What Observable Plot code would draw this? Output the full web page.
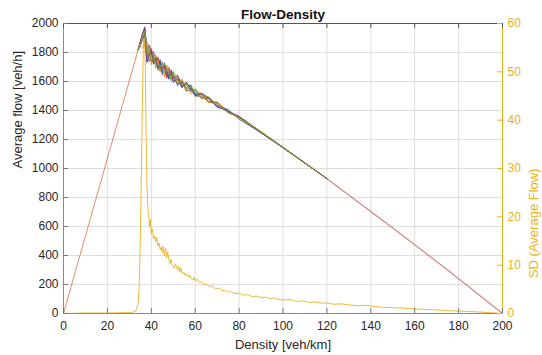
<!DOCTYPE html>
<html><head><meta charset="utf-8">
<script src="https://cdn.jsdelivr.net/npm/d3@7"></script>
<script src="https://cdn.jsdelivr.net/npm/@observablehq/plot@0.6"></script>
<style>body{margin:0;background:#fff} #chart svg{font-family:"Liberation Sans",Arial,sans-serif}</style>
</head><body><div id="chart"></div>
<script>
const chartTitle = "Flow-Density";
const xLabel = "Density [veh/km]";
const yLabel = "Average flow [veh/h]";
const y2Label = "SD (Average Flow)";
const xTicks = [0,20,40,60,80,100,120,140,160,180,200];
const yTicks = [0,200,400,600,800,1000,1200,1400,1600,1800,2000];
const y2Ticks = [0,10,20,30,40,50,60];
const lineColors = ["#0072BD","#D95319","#EDB120","#7E2F8E","#77AC30","#4DBEEE","#A2142F"];
const sdColor = "#EDB120";

// free-flow branch (shared by all runs)
const freeDensity = [0, 34];
const freeFlow = [0, 1819];
// peak region per run (densities 35,36,37)
const peakDensity = [35, 36, 37];
const peakFlows = [
  [1873, 1926, 1978],
  [1873, 1926, 1850],
  [1873, 1905, 1940],
  [1873, 1926, 1965],
  [1860, 1880, 1910],
  [1873, 1926, 1950],
  [1840, 1900, 1930],
  [1873, 1910, 1890],
  [1873, 1926, 1960],
  [1850, 1830, 1870],
  [1873, 1926, 1970],
  [1865, 1915, 1945]
];
// congested branch: centre values and per-run deviations
const congDensity = [38,39,40,41,42,43,44,45,46,47,48,49,50,52,54,56,58,60,63,66,70,75,80,90,100];
const congBase = [1775,1763,1751,1739,1727,1715,1703,1691,1679,1667,1655,1643,1631,1609,1587,1566,1545,1525,1500,1474,1440,1396,1350,1250,1145];
const congDev = [
  [60, 20, 55, -10, 35, -25, 40, -30, 15, 45, -20, 25, -40, 18, -28, 30, -12, 22, -15, 12, -18, 8, -7, 4, 2],
  [-20, 75, 10, 60, -35, 45, -10, 38, -45, 10, 38, -25, 15, -30, 22, -20, 28, -22, 14, -16, 10, -9, 6, -3, -2],
  [85, 35, 80, 15, 50, 0, -40, 25, 45, -32, 5, 42, -18, 28, -8, 15, -30, 8, 18, -10, 14, -11, 5, 3, 1],
  [30, -25, 45, 70, 5, 38, 15, -45, 10, 28, -40, 8, 35, -25, 16, -33, 8, -20, -8, 18, -6, 10, -8, -4, -1],
  [0, 45, -35, 30, 60, -40, 25, 45, -25, -8, 30, -32, 0, 38, -15, 8, 24, -30, 12, -18, 15, -7, 4, 5, 2],
  [95, 55, 15, 40, -25, 18, 50, 0, -30, 38, -8, -40, 22, -8, 30, -22, -16, 15, -20, 6, -12, 12, -4, -5, -2],
  [45, 90, 65, -20, 25, 55, -15, 15, 30, -45, 22, 15, -30, 8, -30, 22, 15, -8, 9, -14, 18, -4, 10, 2, 1],
  [-35, 10, 40, 45, 8, -18, 30, -25, 50, 0, -22, 30, 8, -38, 12, -8, 32, -15, 20, 15, -9, 6, -10, -2, -1],
  [15, 50, -15, 25, 40, 22, -30, 8, -15, 22, 45, -8, -22, 15, 8, -30, 0, 18, -12, 8, 5, -12, 3, 1, 0],
  [70, -10, 25, 55, -20, 30, 5, 20, -35, 40, 10, -15, 28, -20, 25, 12, -25, 28, 4, -20, 8, 11, -5, 3, 2],
  [-45, 30, 70, 0, 30, -30, 45, -5, 25, -20, -35, 35, -10, 30, -22, 28, 5, -25, 16, 10, -15, -2, 8, -3, -2],
  [25, 65, -5, 35, -10, 10, -25, 35, 0, 12, 28, -20, 40, -12, 0, -15, 20, 5, -18, 22, 0, -8, 1, 2, 1]
];
// shared tail
const tailDensity = [120, 150, 175, 200];
const tailFlow = [930, 590, 300, 0];

// SD of average flow (right axis)
const sdDensity = [0,10,20,30,32,33,33.5,34,34.5,35,35.5,36,36.3,36.6,37,37.3,37.6,38,38.4,38.8,39.2,39.6,40,40.5,41,41.5,42,42.5,43,43.5,44,44.5,45,45.5,46,46.5,47,47.5,48,48.5,49,49.5,50,50.5,51,52,52.5,53,53.5,54,55,55.5,56,57,57.5,58,59,59.5,60,61,62,63,64,65,66,67,68,69,70,71,72,74,75,76,78,80,82,84,86,88,90,92,94,96,98,100,103,106,109,112,115,118,120,123,126,130,134,138,142,146,150,155,160,165,170,175,180,185,190,195,200];
const sdValue = [0,0.1,0.1,0.2,0.3,0.6,1.2,2,6,15,30,45,54,57,56,50,38,27,22,20.5,18,19.5,16.5,17.5,15.5,16,14.8,15.8,14,14.6,13.2,13.8,12.6,13.9,12,13.5,11.5,12.8,11,10.3,11.2,10,9.8,9.4,10.2,9,9.8,8.6,9.4,8.3,8.5,7.8,8.2,7.5,8,7.3,6.9,7.5,6.8,7.1,6.4,6.6,5.9,6.2,5.7,5.5,5.8,5.2,5.1,5.3,4.8,4.7,4.4,4.6,4.1,4.2,3.8,3.9,3.5,3.6,3.3,3.4,3.1,3.2,2.9,2.8,2.9,2.5,2.6,2.3,2.4,2.1,2.2,1.9,2.0,1.8,1.6,1.7,1.4,1.3,1.2,1.1,0.95,0.85,0.75,0.6,0.5,0.4,0.3,0.15,0];

const yMax = 2000, y2Max = 60;
const toY = v => v * yMax / y2Max;

const runRows = [];
peakFlows.forEach((pk, i) => {
  runRows.push({s: i, k: freeDensity[1], f: freeFlow[1]});
  peakDensity.forEach((k, j) => runRows.push({s: i, k, f: pk[j]}));
  congDensity.forEach((k, j) => runRows.push({s: i, k, f: congBase[j] + congDev[i][j]}));
  runRows.push({s: i, k: tailDensity[0], f: tailFlow[0]});
});
const freeRows = freeDensity.map((k, i) => ({k, f: freeFlow[i]}));
const tailRows = [{k: congDensity[congDensity.length - 1], f: congBase[congBase.length - 1]}]
  .concat(tailDensity.map((k, i) => ({k, f: tailFlow[i]})));
const sdRows = sdDensity.map((k, i) => ({k, sd: sdValue[i]}));

const W = 542, H = 355, mL = 63, mR = 40, mT = 23, mB = 42;
const fw = W - mL - mR, fh = H - mT - mB;
const tick = 5;
const fmt = d3.format("d");

const plot = Plot.plot({
  width: W, height: H,
  marginLeft: mL, marginRight: mR, marginTop: mT, marginBottom: mB,
  x: {domain: [0, 200]},
  y: {domain: [0, yMax]},
  style: {fontFamily: "'Liberation Sans', Arial, sans-serif", fontSize: "12px", color: "#262626", background: "#fff"},
  marks: [
    Plot.gridX(xTicks, {stroke: "#dedede", strokeOpacity: 1}),
    Plot.gridY(yTicks, {stroke: "#dedede", strokeOpacity: 1}),
    Plot.line(freeRows, {x: "k", y: "f", stroke: "#D95319", strokeWidth: 0.8, strokeOpacity: 0.85}),
    Plot.line(tailRows, {x: "k", y: "f", stroke: "#7E2F8E", strokeWidth: 1.2, strokeOpacity: 0.35}),
    Plot.line(tailRows, {x: "k", y: "f", stroke: "#D95319", strokeWidth: 0.8, strokeOpacity: 0.8}),
    Plot.line(runRows, {x: "k", y: "f", z: "s", stroke: d => lineColors[d.s % 7], strokeWidth: 0.75}),
    Plot.line(sdRows, {x: "k", y: d => toY(d.sd), stroke: sdColor, strokeWidth: 0.9}),
    // frame
    Plot.ruleY([0], {stroke: "#8a8a8a"}),
    Plot.ruleY([yMax], {stroke: "#555"}),
    Plot.ruleX([0], {stroke: "#8a8a8a"}),
    Plot.ruleX([200], {stroke: sdColor}),
    // inward ticks
    Plot.ruleX(xTicks, {insetTop: fh - tick, stroke: "#777"}),
    Plot.ruleX(xTicks, {insetBottom: fh - tick, stroke: "#555"}),
    Plot.ruleY(yTicks, {insetRight: fw - tick, stroke: "#777"}),
    Plot.ruleY(y2Ticks.map(toY), {insetLeft: fw - tick, stroke: sdColor}),
    Plot.axisX(xTicks, {tickSize: 0, tickPadding: 8, label: null, tickFormat: fmt, fill: "#262626"}),
    Plot.axisY(yTicks, {anchor: "left", tickSize: 0, tickPadding: 5, label: null, tickFormat: fmt, fill: "#262626"}),
    Plot.axisY(y2Ticks.map(toY), {anchor: "right", tickSize: 0, tickPadding: 5, label: null, tickFormat: d => fmt(Math.round(d * y2Max / yMax)), fill: sdColor}),
    Plot.text([chartTitle], {frameAnchor: "top", dy: -9, lineAnchor: "middle", text: d => d, fontWeight: "bold", fontSize: 13.5, fill: "#111"}),
    Plot.text([xLabel], {frameAnchor: "bottom", dy: 31, lineAnchor: "middle", text: d => d, fontSize: 13, fill: "#262626"}),
    Plot.text([yLabel], {frameAnchor: "left", dx: -46, rotate: -90, text: d => d, fontSize: 13, fill: "#262626"}),
    Plot.text([y2Label], {frameAnchor: "right", dx: 31, rotate: -90, text: d => d, fontSize: 13, fill: sdColor})
  ]
});
document.getElementById("chart").appendChild(plot);
</script></body></html>
